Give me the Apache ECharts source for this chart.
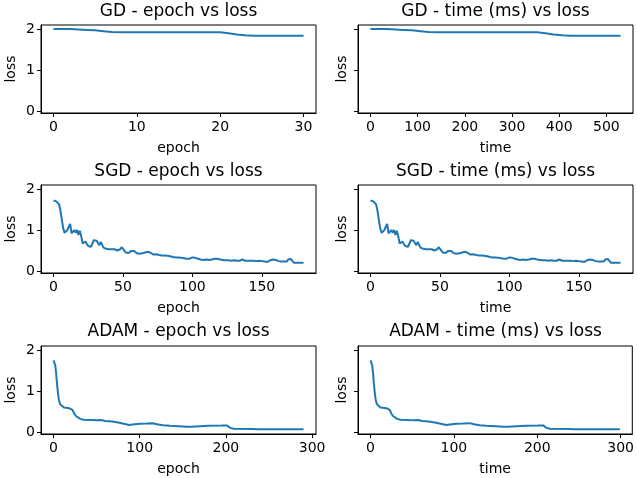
<!DOCTYPE html>
<html>
<head>
<meta charset="utf-8">
<script src="https://cdn.jsdelivr.net/npm/echarts@6/dist/echarts.min.js"></script>
<style>
  html, body { margin: 0; padding: 0; background: #fff; }
  #main { width: 637px; height: 478px; }
</style>
</head>
<body>
<div id="main"></div>
<script>
// GD: 31 epochs
var gdLoss = [2.0, 2.0, 2.0, 1.99, 1.98, 1.97, 1.95, 1.93, 1.92, 1.92,
              1.92, 1.92, 1.92, 1.92, 1.92, 1.92, 1.92, 1.92, 1.92, 1.92,
              1.92, 1.90, 1.87, 1.85, 1.84, 1.84, 1.84, 1.84, 1.84, 1.84, 1.84];
var gdTime = [0, 18, 35, 53, 70, 88, 106, 123, 141, 159, 176, 194, 212, 229, 247, 265,
              282, 300, 318, 335, 353, 371, 388, 406, 424, 441, 459, 477, 494, 512, 530];

// SGD: 181 epochs (time in ms is roughly the same as epoch)
var sgdLoss = [1.72, 1.70, 1.70, 1.66, 1.63, 1.48, 1.25, 1.04, 0.93, 0.96,
               1.00, 1.08, 1.15, 0.92, 0.94, 1.00, 0.93, 1.00, 0.88, 0.98,
               0.84, 0.67, 0.69, 0.72, 0.66, 0.61, 0.59, 0.59, 0.62, 0.75,
               0.77, 0.74, 0.72, 0.63, 0.71, 0.70, 0.57, 0.55, 0.54, 0.54,
               0.53, 0.54, 0.53, 0.52, 0.53, 0.51, 0.50, 0.50, 0.53, 0.58,
               0.62, 0.50, 0.45, 0.44, 0.44, 0.45, 0.49, 0.52, 0.49, 0.46,
               0.43, 0.42, 0.42, 0.41, 0.43, 0.41, 0.45, 0.42, 0.47, 0.43,
               0.44, 0.41, 0.40, 0.40, 0.41, 0.39, 0.39, 0.38, 0.38, 0.39,
               0.38, 0.37, 0.37, 0.41, 0.36, 0.34, 0.34, 0.33, 0.33, 0.34,
               0.33, 0.32, 0.32, 0.32, 0.31, 0.31, 0.30, 0.30, 0.30, 0.31,
               0.33, 0.33, 0.32, 0.33, 0.30, 0.28, 0.28, 0.28, 0.27, 0.28,
               0.28, 0.28, 0.27, 0.28, 0.28, 0.28, 0.30, 0.31, 0.30, 0.28,
               0.28, 0.27, 0.27, 0.27, 0.26, 0.27, 0.26, 0.26, 0.25, 0.26,
               0.26, 0.25, 0.25, 0.26, 0.25, 0.26, 0.28, 0.25, 0.25, 0.24,
               0.25, 0.25, 0.25, 0.24, 0.25, 0.25, 0.24, 0.24, 0.25, 0.24,
               0.24, 0.23, 0.23, 0.23, 0.22, 0.23, 0.26, 0.28, 0.28, 0.28,
               0.27, 0.24, 0.24, 0.23, 0.23, 0.23, 0.23, 0.22, 0.23, 0.28,
               0.29, 0.29, 0.25, 0.20, 0.20, 0.20, 0.20, 0.20, 0.20, 0.20, 0.20];

// ADAM: read at key epochs
var adamEpoch = [0, 1, 2, 3, 4, 5, 6, 7, 8, 10, 12, 15, 18, 20, 22, 24, 26, 28, 31, 35,
                 45, 50, 55, 60, 68, 75, 84, 88, 92, 100, 108, 115, 120, 127, 135, 145,
                 155, 160, 170, 180, 195, 201, 205, 209, 232, 236, 290];
var adamTime  = [0, 1, 2, 3, 4, 5, 6, 7, 8, 10, 12, 15, 19, 21, 23, 25, 27, 29, 32, 36,
                 46, 52, 57, 62, 70, 77, 87, 91, 95, 103, 111, 119, 124, 131, 139, 150,
                 160, 165, 175, 186, 201, 207, 211, 215, 239, 243, 299];
var adamLoss  = [1.75, 1.79, 1.63, 1.45, 1.20, 0.98, 0.82, 0.72, 0.67, 0.63, 0.60, 0.59,
                 0.58, 0.60, 0.54, 0.45, 0.39, 0.35, 0.32, 0.30, 0.29, 0.285, 0.29, 0.27,
                 0.255, 0.23, 0.19, 0.17, 0.18, 0.20, 0.205, 0.215, 0.19, 0.165, 0.15,
                 0.14, 0.13, 0.125, 0.14, 0.15, 0.155, 0.16, 0.10, 0.08, 0.075, 0.066, 0.066];

var titles = ['GD - epoch vs loss', 'GD - time (ms) vs loss',
              'SGD - epoch vs loss', 'SGD - time (ms) vs loss',
              'ADAM - epoch vs loss', 'ADAM - time (ms) vs loss'];
var xNames = ['epoch', 'time', 'epoch', 'time', 'epoch', 'time'];
var xTicks = [[0, 10, 20, 30], [0, 100, 200, 300, 400, 500],
              [0, 50, 100, 150], [0, 50, 100, 150],
              [0, 100, 200, 300], [0, 100, 200, 300]];
var xRanges = [[-1.5, 31.5], [-26.5, 556.5], [-9, 189], [-9, 189], [-14.5, 304.5], [-15, 314]];
var yTicks = [0, 1, 2];

function pairs(xs, ys) {
    var out = [];
    for (var i = 0; i < ys.length; i++) out.push([xs ? xs[i] : i, ys[i]]);
    return out;
}

var seriesData = [
    pairs(null, gdLoss), pairs(gdTime, gdLoss),
    pairs(null, sgdLoss), pairs(null, sgdLoss),
    pairs(adamEpoch, adamLoss), pairs(adamTime, adamLoss)
];

var font = 'DejaVu Sans';
var colLeft = [41, 358];
var rowTop = [25, 185, 346];
var plotW = 275, plotH = 88;
var titleY = [12, 172, 332];

var grids = [], xAxes = [], yAxes = [], series = [], graphics = [];
for (var k = 0; k < 6; k++) {
    var c = k % 2, r = Math.floor(k / 2);
    grids.push({
        left: colLeft[c], top: rowTop[r], width: plotW, height: plotH,
        show: true, borderColor: '#000', borderWidth: 1, backgroundColor: 'transparent'
    });
    xAxes.push({
        type: 'value', gridIndex: k, min: xRanges[k][0], max: xRanges[k][1],
        name: xNames[k], nameLocation: 'middle', nameGap: 28,
        nameTextStyle: { fontFamily: font, fontSize: 14, color: '#000' },
        axisLine: { show: true, onZero: false, lineStyle: { color: '#000', width: 1 } },
        axisTick: { show: true, length: 4, customValues: xTicks[k], lineStyle: { color: '#000' } },
        axisLabel: { customValues: xTicks[k], fontFamily: font, fontSize: 14, color: '#000', margin: 7 },
        splitLine: { show: false }
    });
    yAxes.push({
        type: 'value', gridIndex: k, min: -0.05, max: 2.1,
        name: 'loss', nameLocation: 'middle', nameRotate: 90, nameGap: c === 0 ? 23 : 9,
        nameTextStyle: { fontFamily: font, fontSize: 14, color: '#000' },
        axisLine: { show: true, onZero: false, lineStyle: { color: '#000', width: 1 } },
        axisTick: { show: true, length: 4, customValues: yTicks, lineStyle: { color: '#000' } },
        axisLabel: { show: c === 0, customValues: yTicks, fontFamily: font, fontSize: 14, color: '#000', margin: 6 },
        splitLine: { show: false }
    });
    series.push({
        type: 'line', xAxisIndex: k, yAxisIndex: k, data: seriesData[k],
        showSymbol: false, animation: false,
        lineStyle: { color: '#1f77b4', width: 2 }
    });
    graphics.push({
        type: 'text', x: colLeft[c] + plotW / 2, y: titleY[r],
        style: { text: titles[k], font: '17px "DejaVu Sans"', fill: '#000',
                 textAlign: 'center', textVerticalAlign: 'middle' }
    });
}

var myChart = echarts.init(document.getElementById('main'), null, { renderer: 'canvas' });
myChart.setOption({
    backgroundColor: '#fff',
    animation: false,
    grid: grids,
    xAxis: xAxes,
    yAxis: yAxes,
    series: series,
    graphic: graphics
});
</script>
</body>
</html>
